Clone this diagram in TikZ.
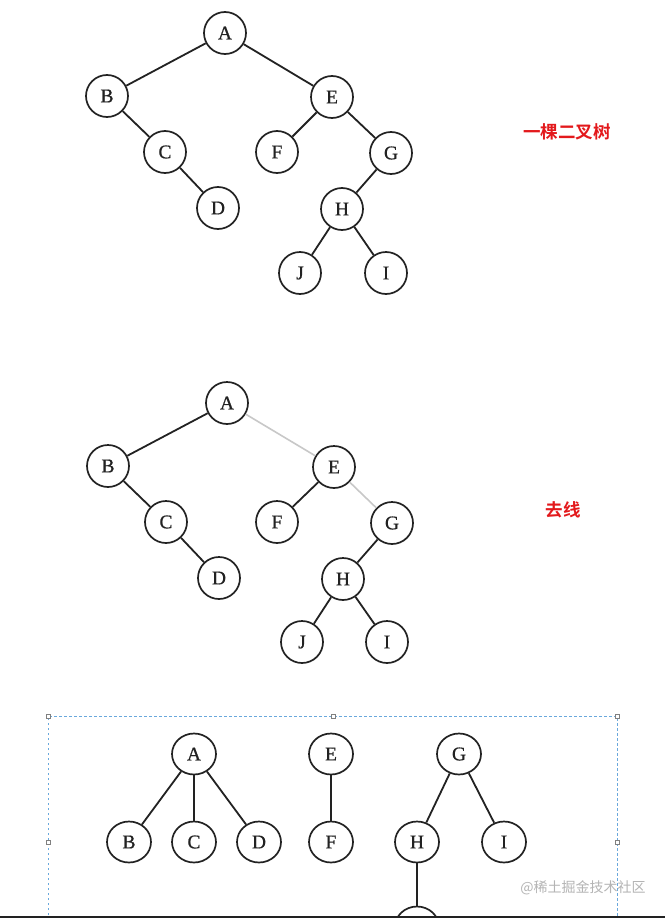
\documentclass[tikz,border=0pt]{standalone}
\usepackage{fontspec}
\setmainfont{Liberation Serif}
\newfontfamily\nodefont{Liberation Serif}[FakeBold=0.7]
\newfontfamily\cjk{Noto Sans CJK SC}
\newfontfamily\cjkb{Noto Sans CJK SC Bold}
\usetikzlibrary{shapes.geometric}
\definecolor{ink}{HTML}{222222}
\definecolor{redtxt}{HTML}{E3191C}
\definecolor{paleline}{HTML}{C8C8C8}
\definecolor{selblue}{HTML}{6AA8DC}
\definecolor{wm}{HTML}{B4B4B4}
\tikzset{
  tnode/.style={circle, draw=ink, line width=1.7pt, minimum size=42pt, inner sep=0pt, font=\nodefont\fontsize{19.5}{19.5}\selectfont, text=ink},
  bnode/.style={ellipse, draw=ink, line width=1.7pt, minimum width=44pt, minimum height=41pt, inner sep=0pt, font=\nodefont\fontsize{19.5}{19.5}\selectfont, text=ink},
  edge/.style={draw=ink, line width=1.8pt},
  paleedge/.style={draw=paleline, line width=1.6pt},
  label/.style={font=\cjkb\fontsize{17.5}{17.5}\selectfont, text=redtxt},
  handle/.style={draw=gray, fill=white, line width=0.5pt, minimum size=3.5pt, inner sep=0pt, rectangle},
}
\begin{document}
\begin{tikzpicture}[x=1pt,y=-1pt]
\useasboundingbox (0,0) rectangle (665,918);
\fill[white] (0,0) rectangle (665,918);
% top tree
\node[tnode] (A1) at (225,33) {A};
\node[tnode] (B1) at (107,96) {B};
\node[tnode] (E1) at (332,97) {E};
\node[tnode] (C1) at (165,152) {C};
\node[tnode] (F1) at (277,152) {F};
\node[tnode] (G1) at (391,153) {G};
\node[tnode] (D1) at (218,208) {D};
\node[tnode] (H1) at (342,209) {H};
\node[tnode] (J1) at (300,273) {J};
\node[tnode] (I1) at (386,273) {I};
\draw[edge] (A1)--(B1); \draw[edge] (A1)--(E1);
\draw[edge] (B1)--(C1); \draw[edge] (C1)--(D1);
\draw[edge] (E1)--(F1); \draw[edge] (E1)--(G1);
\draw[edge] (G1)--(H1); \draw[edge] (H1)--(J1); \draw[edge] (H1)--(I1);
\node[label] (L1) at (567,132) {一棵二叉树};
% middle tree
\node[tnode] (A2) at (227,403) {A};
\node[tnode] (B2) at (108,466) {B};
\node[tnode] (E2) at (334,467) {E};
\node[tnode] (C2) at (166,522) {C};
\node[tnode] (F2) at (277,522) {F};
\node[tnode] (G2) at (392,523) {G};
\node[tnode] (D2) at (219,578) {D};
\node[tnode] (H2) at (343,579) {H};
\node[tnode] (J2) at (302,642) {J};
\node[tnode] (I2) at (387,642) {I};
\draw[edge] (A2)--(B2); \draw[paleedge] (A2)--(E2);
\draw[edge] (B2)--(C2); \draw[edge] (C2)--(D2);
\draw[edge] (E2)--(F2); \draw[paleedge] (E2)--(G2);
\draw[edge] (G2)--(H2); \draw[edge] (H2)--(J2); \draw[edge] (H2)--(I2);
\node[label] (L2) at (563,510) {去线};
% selection box
\draw[selblue, line width=0.8pt, dash pattern=on 2.5pt off 2.5pt] (48,930) -- (48,716) -- (617,716) -- (617,930);
\node[handle] (h1) at (48,716) {};
\node[handle] (h2) at (333,716) {};
\node[handle] (h3) at (617,716) {};
\node[handle] (h4) at (48,842) {};
\node[handle] (h5) at (617,842) {};
% bottom forest
\node[bnode] (A3) at (194,754) {A};
\node[bnode] (B3) at (129,842) {B};
\node[bnode] (C3) at (194,842) {C};
\node[bnode] (D3) at (259,842) {D};
\node[bnode] (E3) at (331,754) {E};
\node[bnode] (F3) at (331,842) {F};
\node[bnode] (G3) at (459,754) {G};
\node[bnode] (H3) at (417,842) {H};
\node[bnode] (I3) at (504,842) {I};
\node[bnode] (J3) at (417,927) {};
\draw[edge] (A3)--(B3); \draw[edge] (A3)--(C3); \draw[edge] (A3)--(D3);
\draw[edge] (E3)--(F3);
\draw[edge] (G3)--(H3); \draw[edge] (G3)--(I3);
\draw[edge] (H3)--(J3);
\node[font=\cjk\fontsize{14}{14}\selectfont, text=wm] (wmk) at (583,888) {@稀土掘金技术社区};
\fill[ink] (0,915.5) rectangle (665,918);
\end{tikzpicture}
\end{document}
